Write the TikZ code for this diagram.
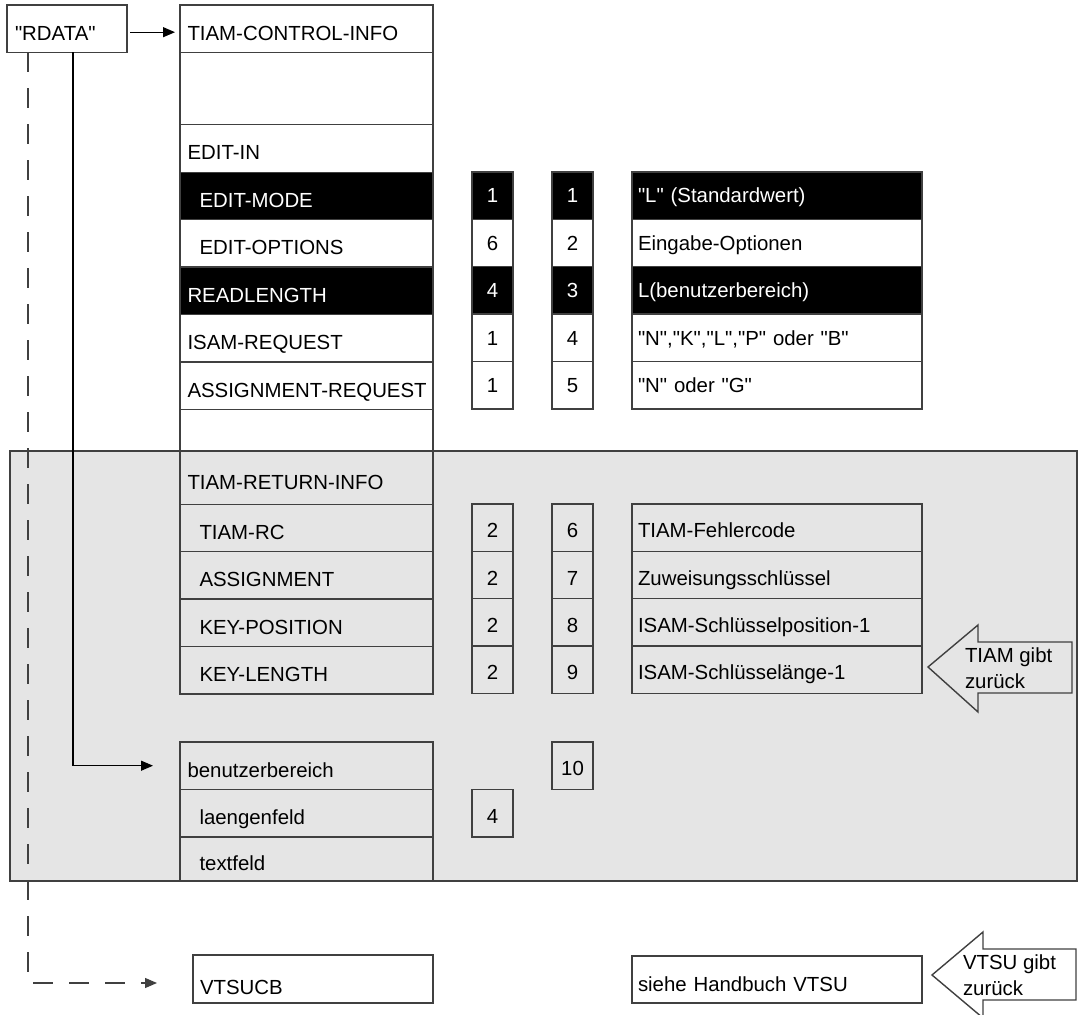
\documentclass[tikz,border=0pt]{standalone}
\usepackage{fontspec}
\setmainfont{Liberation Sans}[Ligatures=TeXOff]
\usetikzlibrary{arrows.meta,positioning}

\definecolor{panelgray}{RGB}{229,229,229}
\definecolor{linegray}{RGB}{64,64,64}
\exhyphenpenalty=10000

\begin{document}
\begin{tikzpicture}[
    x=0.5pt, y=-0.5pt,
    every node/.style={font=\fontsize{10.2}{13}\selectfont, outer sep=0pt},
    row/.style={draw=linegray, line width=0.7pt, minimum width=126.5pt, minimum height=23.7pt, inner sep=0pt, text width=119pt, align=left, text height=11.5pt, text depth=0pt},
    sub/.style={row, execute at begin node={\hspace*{6pt}}},
    dark/.style={fill=black, text=white},
    num/.style={draw=linegray, line width=0.7pt, minimum width=20.5pt, minimum height=23.7pt, inner sep=0pt, text height=7.2pt, text depth=0pt},
    low/.style={text height=10pt},
    desc/.style={num, minimum width=145pt, text width=139pt, align=left},
    arr/.style={-{Triangle[length=6pt,width=5pt]}, line width=0.6pt},
    dsh/.style={arr, draw=linegray, dash pattern=on 10pt off 8pt},
    bigarrow/.style={draw=linegray, line width=0.7pt, line join=miter}
]
\useasboundingbox (0,0) rectangle (1082,1015);

% grey area: what TIAM gives back
\draw[draw=linegray, line width=0.7pt, fill=panelgray] (10,451) rectangle (1077,881);

\node[row, minimum width=60pt, text width=52pt, anchor=north west] (rdata) at (7,5) {"RDATA"};

% parameter area
\node[row, anchor=north west] (ctl) at (180,5) {TIAM-CONTROL-INFO};
\node[row, minimum height=36pt, below=0pt of ctl] (gapa) {};
\node[row, minimum height=24pt, below=0pt of gapa] (editin) {EDIT-IN};
\node[sub, dark, below=0pt of editin] (mode) {EDIT-MODE};
\node[sub, below=0pt of mode] (opts) {EDIT-OPTIONS};
\node[row, dark, below=0pt of opts] (readlen) {READLENGTH};
\node[row, below=0pt of readlen] (isamreq) {ISAM-REQUEST};
\node[row, below=0pt of isamreq] (assreq) {ASSIGNMENT-REQUEST};
\node[row, minimum height=21pt, below=0pt of assreq] (gapb) {};
\node[row, minimum height=26.5pt, below=0pt of gapb] (retinfo) {TIAM-RETURN-INFO};
\node[sub, below=0pt of retinfo] (rc) {TIAM-RC};
\node[sub, below=0pt of rc] (assign) {ASSIGNMENT};
\node[sub, below=0pt of assign] (keypos) {KEY-POSITION};
\node[sub, below=0pt of keypos] (keylen) {KEY-LENGTH};

% lengths
\node[num, dark, anchor=north west] (la) at (472,172) {1};
\node[num, below=0pt of la] (lb) {6};
\node[num, dark, below=0pt of lb] (lc) {4};
\node[num, below=0pt of lc] (ld) {1};
\node[num, below=0pt of ld] (le) {1};
\node[num, low, anchor=north west] (lf) at (472,504) {2};
\node[num, low, below=0pt of lf] (lg) {2};
\node[num, low, below=0pt of lg] (lh) {2};
\node[num, low, below=0pt of lh] (li) {2};

% footnote numbers
\node[num, dark, anchor=north west] (fa) at (552,172) {1};
\node[num, below=0pt of fa] (fb) {2};
\node[num, dark, below=0pt of fb] (fc) {3};
\node[num, below=0pt of fc] (fd) {4};
\node[num, below=0pt of fd] (fe) {5};
\node[num, low, anchor=north west] (ff) at (552,504) {6};
\node[num, low, below=0pt of ff] (fg) {7};
\node[num, low, below=0pt of fg] (fh) {8};
\node[num, low, below=0pt of fh] (fi) {9};

% meaning
\node[desc, dark, anchor=north west] (da) at (632,172) {"L" (Standardwert)};
\node[desc, below=0pt of da] (db) {Eingabe-Optionen};
\node[desc, dark, below=0pt of db] (dc) {L(benutzerbereich)};
\node[desc, below=0pt of dc] (dd) {"N","K","L","P" oder "B"};
\node[desc, below=0pt of dd] (de) {"N" oder "G"};
\node[desc, low, anchor=north west] (df) at (632,504) {TIAM-Fehlercode};
\node[desc, low, below=0pt of df] (dg) {Zuweisungsschlüssel};
\node[desc, low, below=0pt of dg] (dh) {ISAM-Schlüsselposition-1};
\node[desc, low, below=0pt of dh] (di) {ISAM-Schlüsselänge-1};

% user area
\node[row, anchor=north west] (benutz) at (180,742) {benutzerbereich};
\node[sub, below=0pt of benutz] (laenge) {laengenfeld};
\node[sub, minimum height=22pt, below=0pt of laenge] (textf) {textfeld};
\node[num, low, anchor=north west] (nten) at (552,742) {10};
\node[num, low, anchor=north west] (nfour) at (472,789.4) {4};

% VTSU
\node[row, minimum width=120pt, text width=113pt, minimum height=24pt, text height=15pt, anchor=north west] (vtsucb) at (193,955) {VTSUCB};
\node[desc, minimum height=23.5pt, text height=11.5pt, anchor=north west] (handbuch) at (632,956) {siehe Handbuch VTSU};

% big arrows
\draw[bigarrow] (928,667) -- (978,625) -- (978,642) -- (1072,642) -- (1072,693) -- (978,693) -- (978,712) -- cycle;
\node[align=left, anchor=west, inner sep=0pt] (tiamback) at (965,668) {TIAM gibt\\zurück};
\draw[bigarrow] (932,975) -- (983,932) -- (983,949) -- (1076,949) -- (1076,1000) -- (983,1000) -- (983,1018) -- cycle;
\node[align=left, anchor=west, inner sep=0pt] (vtsuback) at (963,975) {VTSU gibt\\zurück};

% connectors
\draw[arr, shorten <=1.5pt, shorten >=2.5pt] ([yshift=-1.75pt]rdata.east) -- ([yshift=-1.75pt]ctl.west);
\draw[arr, shorten >=13.5pt] ([xshift=3pt]rdata.south) |- (benutz.west);
\draw[dsh, shorten >=18pt] ([xshift=10.5pt]rdata.south west) |- ([yshift=-2pt]vtsucb.west);
\end{tikzpicture}
\end{document}
